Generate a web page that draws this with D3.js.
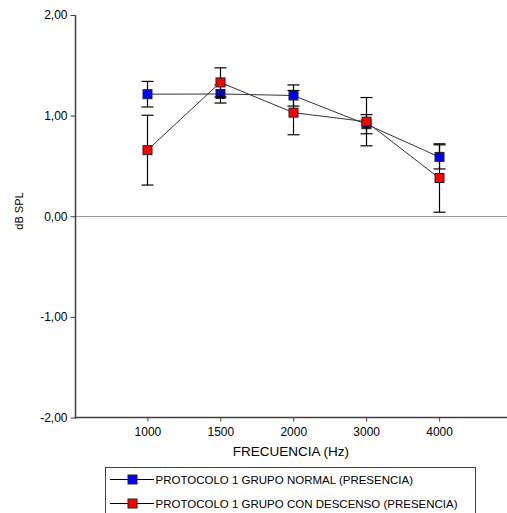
<!DOCTYPE html>
<html>
<head>
<meta charset="utf-8">
<script src="https://cdn.jsdelivr.net/npm/d3@7"></script>
<style>
  body { margin: 0; background: #fff; }
  svg { display: block; font-family: "Liberation Sans", Arial, sans-serif; }
</style>
</head>
<body>
<svg id="chart" width="507" height="513"></svg>
<script>
// values
const frequencies = ["1000", "1500", "2000", "3000", "4000"];
const normalMean = [1.213, 1.215, 1.20, 0.915, 0.59];
const normalErr = [0.127, 0.09, 0.105, 0.095, 0.12];
const descensoMean = [0.657, 1.33, 1.03, 0.94, 0.38];
const descensoErr = [0.347, 0.145, 0.22, 0.24, 0.34];
const yTicks = [-2, -1, 0, 1, 2];
const seriesNames = [
  "PROTOCOLO 1 GRUPO NORMAL (PRESENCIA)",
  "PROTOCOLO 1 GRUPO CON DESCENSO (PRESENCIA)"
];
const seriesColours = ["#0000ff", "#ff0000"];

const series = [
  { name: seriesNames[0], colour: seriesColours[0], mean: normalMean, err: normalErr },
  { name: seriesNames[1], colour: seriesColours[1], mean: descensoMean, err: descensoErr }
];

const svg = d3.select("#chart");
const axisColour = "#404040";

const x = d3.scalePoint().domain(frequencies).range([74.5, 512]).padding(1);
const y = d3.scaleLinear().domain([-2, 2]).range([417.5, 15]);
// comma decimals, plain hyphen for negatives
const fmt = d3.formatLocale({ decimal: ",", thousands: ".", grouping: [3], currency: ["", ""], minus: "-" }).format(".2f");

// zero reference line
svg.append("line")
  .attr("x1", 75).attr("x2", 507)
  .attr("y1", Math.round(y(0)) + 0.5).attr("y2", Math.round(y(0)) + 0.5)
  .attr("stroke", "#999").attr("stroke-width", 1);

// y axis
const yAxis = svg.append("g")
  .attr("transform", "translate(75.5,0)")
  .call(d3.axisLeft(y).tickValues(yTicks).tickFormat(fmt).tickSizeOuter(0).tickSizeInner(5).tickPadding(3));
yAxis.select(".domain").attr("stroke", axisColour).attr("stroke-width", 1.5).attr("d", `M0,${y(2)}V${y(-2) + 1}`);
yAxis.selectAll(".tick line").attr("stroke", axisColour);
yAxis.selectAll(".tick text").attr("font-size", 12).attr("fill", "#000").attr("font-family", "Liberation Sans, Arial, sans-serif");

// x axis
const xAxis = svg.append("g")
  .attr("transform", `translate(0,${y(-2)})`)
  .call(d3.axisBottom(x).tickSizeOuter(0).tickSizeInner(4).tickPadding(6));
xAxis.select(".domain").attr("stroke", axisColour).attr("stroke-width", 1.5).attr("d", "M75,0H507");
xAxis.selectAll(".tick line").attr("stroke", axisColour);
xAxis.selectAll(".tick text").attr("font-size", 12).attr("fill", "#000").attr("font-family", "Liberation Sans, Arial, sans-serif");

// axis titles
svg.append("text")
  .attr("x", 291).attr("y", 456)
  .attr("text-anchor", "middle")
  .attr("font-size", 13.5)
  .text("FRECUENCIA (Hz)");

svg.append("text")
  .attr("transform", "translate(23,211) rotate(-90)")
  .attr("text-anchor", "middle")
  .attr("font-size", 11)
  .text("dB SPL");

const line = d3.line()
  .x((d, i) => x(frequencies[i]))
  .y(d => y(d));

const capW = 6;

series.forEach(s => {
  const g = svg.append("g");
  g.append("path")
    .attr("d", line(s.mean))
    .attr("fill", "none")
    .attr("stroke", "#333")
    .attr("stroke-width", 1);

  const bars = g.selectAll(".err")
    .data(frequencies)
    .join("g")
    .attr("transform", f => `translate(${Math.round(x(f)) + 0.5},0)`);
  bars.append("line")
    .attr("y1", (f, i) => y(s.mean[i] + s.err[i]))
    .attr("y2", (f, i) => y(s.mean[i] - s.err[i]))
    .attr("stroke", "#000").attr("stroke-width", 1.2);
  [1, -1].forEach(sign => {
    bars.append("line")
      .attr("x1", -capW).attr("x2", capW)
      .attr("y1", (f, i) => y(s.mean[i] + sign * s.err[i]))
      .attr("y2", (f, i) => y(s.mean[i] + sign * s.err[i]))
      .attr("stroke", "#000").attr("stroke-width", 1.2);
  });

  g.selectAll("rect")
    .data(s.mean)
    .join("rect")
    .attr("x", (d, i) => Math.round(x(frequencies[i])) - 4)
    .attr("y", d => y(d) - 4.5)
    .attr("width", 9).attr("height", 9)
    .attr("fill", s.colour)
    .attr("stroke", "#222").attr("stroke-width", 1);
});

// legend
const legend = svg.append("g");
legend.append("rect")
  .attr("x", 105.5).attr("y", 467.5)
  .attr("width", 370).attr("height", 60)
  .attr("fill", "#fff").attr("stroke", axisColour).attr("stroke-width", 1);

series.forEach((s, i) => {
  const ly = 479.5 + i * 24;
  legend.append("line")
    .attr("x1", 110).attr("x2", 154)
    .attr("y1", ly).attr("y2", ly)
    .attr("stroke", "#000").attr("stroke-width", 1);
  legend.append("rect")
    .attr("x", 128).attr("y", ly - 4.5)
    .attr("width", 9).attr("height", 9)
    .attr("fill", s.colour).attr("stroke", "#222");
  legend.append("text")
    .attr("x", 155.5).attr("y", ly + 4)
    .attr("font-size", 11.5)
    .text(s.name);
});
</script>
</body>
</html>
